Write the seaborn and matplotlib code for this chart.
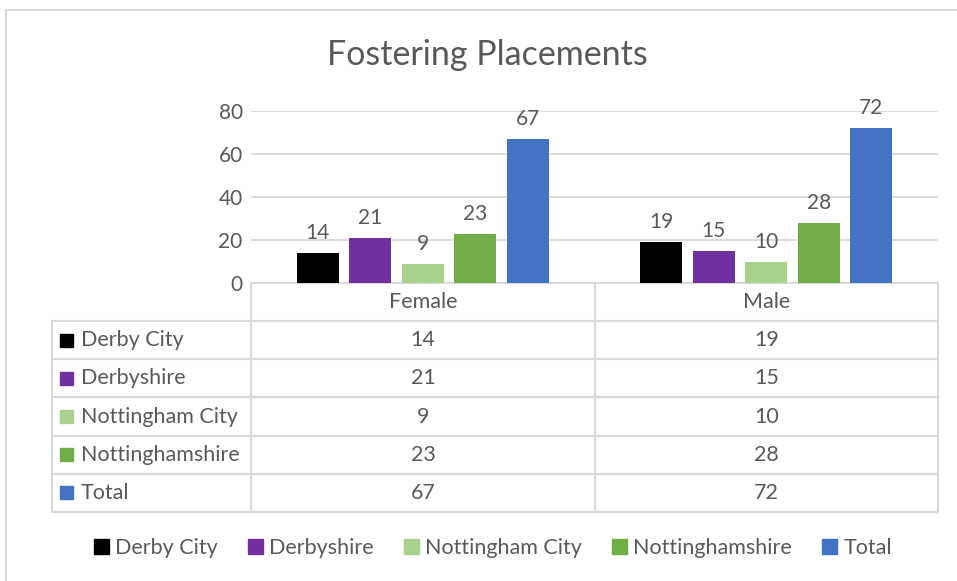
import pandas as pd
import matplotlib
matplotlib.use('Agg')
import matplotlib.pyplot as plt
import seaborn as sns
from matplotlib.patches import Rectangle, Patch
from matplotlib.table import Table

# data
genders = ['Female', 'Male']
authorities = ['Derby City', 'Derbyshire', 'Nottingham City', 'Nottinghamshire', 'Total']
female = [14, 21, 9, 23, 67]
male = [19, 15, 10, 28, 72]
colors = ['#000000', '#7030A0', '#A9D18E', '#70AD47', '#4472C4']
yticks = [0, 20, 40, 60, 80]

df = pd.DataFrame({
    'gender': ['Female'] * 5 + ['Male'] * 5,
    'authority': authorities * 2,
    'count': female + male,
})

sns.set_style('white')
plt.rcParams['font.family'] = ['Lato', 'DejaVu Sans']
txt = '#595959'
grid = '#d9d9d9'

W, H = 957, 581
fig = plt.figure(figsize=(W / 100, H / 100), dpi=100)
ax = fig.add_axes([251 / W, (H - 283) / H, 687 / W, 172 / H])

sns.barplot(data=df, x='gender', y='count', hue='authority', order=genders,
            hue_order=authorities, palette=colors, width=0.765, gap=0.2,
            saturation=1, linewidth=0, legend=False, ax=ax)

for cont in ax.containers:
    ax.bar_label(cont, padding=7, fontsize=15, color=txt, clip_on=False)

ax.set_ylim(0, 80)
ax.set_xlim(-0.5, 1.5)
ax.set_yticks(yticks)
ax.set_xticks([])
ax.set_xlabel('')
ax.set_ylabel('')
ax.tick_params(axis='y', length=0, pad=6, labelsize=15, labelcolor=txt)
ax.yaxis.grid(True, color=grid, linewidth=1.3)
ax.set_axisbelow(True)
sns.despine(ax=ax, left=True, bottom=True)

# data table under the chart
tab_left = (52 - 251) / 687
tab_h = (512 - 283) / 172
col_w = [199 / 886, 344 / 886, 343 / 886]
tbl = Table(ax, bbox=[tab_left, -tab_h, 1 - tab_left, tab_h])
rh = 1 / 6
for c, lab in enumerate([''] + genders):
    cell = tbl.add_cell(0, c, width=col_w[c], height=rh, text=lab, loc='center',
                        edgecolor=grid, facecolor='none')
    if c == 0:
        cell.visible_edges = 'open'
for r, name in enumerate(authorities, start=1):
    cell = tbl.add_cell(r, 0, width=col_w[0], height=rh, text=name, loc='left',
                        edgecolor=grid, facecolor='none')
    cell.PAD = 0.145
    tbl.add_cell(r, 1, width=col_w[1], height=rh, text=str(female[r - 1]),
                 loc='center', edgecolor=grid, facecolor='none')
    tbl.add_cell(r, 2, width=col_w[2], height=rh, text=str(male[r - 1]),
                 loc='center', edgecolor=grid, facecolor='none')
tbl.auto_set_font_size(False)
tbl.set_fontsize(15.5)
for cell in tbl.get_celld().values():
    cell.set_linewidth(1.5)
    cell.get_text().set_color(txt)
ax.add_table(tbl)

# colour keys in the table
row_px = tab_h / 6
for r, c in enumerate(colors, start=1):
    yc = -(r + 0.5) * row_px
    ax.add_patch(Rectangle(((60 - 251) / 687, yc - 6.5 / 172), 13 / 687, 13 / 172,
                           transform=ax.transAxes, color=c, clip_on=False))

fig.text(0.509, 1 - 55 / H, 'Fostering Placements', ha='center', va='center',
         fontsize=24.5, color=txt)

handles = [Patch(color=c, label=n) for c, n in zip(colors, authorities)]
fig.legend(handles=handles, loc='center', bbox_to_anchor=(0.515, 1 - 548 / H),
           ncol=5, frameon=False, fontsize=15.5, labelcolor=txt,
           handlelength=0.7, handleheight=0.7, handletextpad=0.3,
           columnspacing=1.38)

# chart frame (only top and left edges fall inside the picture)
fig.patches.append(Rectangle((6 / W, -0.1), 1.2, 1.1 - 10 / H,
                             transform=fig.transFigure, fill=False,
                             edgecolor=grid, linewidth=1.5))

fig.savefig('out.png', dpi=100, facecolor='white')
